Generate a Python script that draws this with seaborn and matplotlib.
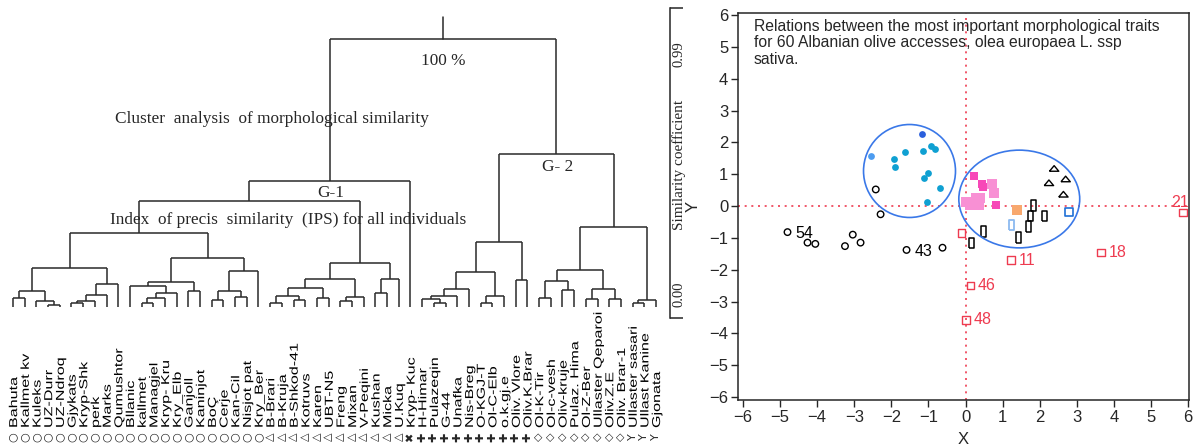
import numpy as np
import pandas as pd
import seaborn as sns
import matplotlib.pyplot as plt
from matplotlib import transforms
from matplotlib.patches import Ellipse, PathPatch
from matplotlib.textpath import TextPath
from matplotlib.font_manager import FontProperties

sns.set_style("ticks")
plt.rcParams['font.family'] = ['Liberation Sans', 'DejaVu Sans']

W, H = 1196, 448

# ---------------- dendrogram data ----------------
leaf_names = ["Bahuta", "Kallmet kv", "Kuleks", "UZ-Durr", "UZ-Ndroq", "Gjykats", "Kryp-Shk", "perk",
              "Marks", "Qumushtor", "Bllanic", "kallmet", "Managjel", "Kryp- Kru", "Kry_Elb", "Ganjoll",
              "Kaninjot", "BoÇ", "Cerje", "Kan-Cil", "Nisjot pat", "Kry_Ber",
              "B-Brari", "B-Kruja", "B-Shkod-41", "Kotruvs", "Karen", "UBT-N5", "Freng", "Mixan",
              "V-Peqini", "Kushan", "Micka", "U.Kuq",
              "Kryp- Kuc",
              "H-Himar", "Pulazeqin", "G-44", "Unafka", "Nis-Breg", "O-KGJ-T", "Ol-C-Elb", "o.k.gj.e",
              "Oliv. Vlore", "Oliv.K.Brar",
              "Ol-K-Tir", "Ol-c-vesh", "Oliv-kruje", "Pulaz. Hima", "Ol-Z-Ber", "Ullaster Qeparoi",
              "Oliv.Z.E", "Oliv. Brar-1",
              "Ullaster sasari", "Ullast Kanine", "Gjonata"]
group_symbols = ["○", "△", "✖", "✚", "◇", "Y"]
group_sizes = [22, 12, 1, 10, 8, 3]

# merges (left, right, height); ids < 56 are leaves, later ids are earlier merges
merges = [
    (0, 1, 0.034), (3, 4, 0.007), (2, 57, 0.022), (56, 58, 0.060),
    (5, 6, 0.015), (60, 7, 0.022), (61, 8, 0.045), (62, 9, 0.086), (59, 63, 0.146),
    (11, 12, 0.015), (65, 13, 0.034), (66, 14, 0.052), (10, 67, 0.078), (15, 16, 0.060),
    (68, 69, 0.093), (17, 18, 0.026), (19, 20, 0.037), (71, 72, 0.060), (73, 21, 0.134),
    (70, 74, 0.183), (64, 75, 0.276),
    (22, 23, 0.015), (24, 25, 0.026), (77, 78, 0.041), (26, 27, 0.034), (79, 80, 0.071),
    (28, 29, 0.022), (82, 30, 0.037), (81, 83, 0.104), (31, 32, 0.052), (85, 33, 0.104),
    (84, 86, 0.164), (76, 87, 0.396), (88, 34, 0.470),
    (36, 37, 0.015), (35, 90, 0.030), (91, 38, 0.041), (92, 39, 0.067), (40, 41, 0.015),
    (94, 42, 0.041), (93, 95, 0.131), (43, 44, 0.101), (96, 97, 0.243),
    (45, 46, 0.034), (47, 48, 0.063), (99, 100, 0.097), (49, 50, 0.030), (51, 52, 0.030),
    (102, 103, 0.067), (101, 104, 0.138), (53, 54, 0.015), (106, 55, 0.026), (105, 107, 0.299),
    (98, 108, 0.571), (89, 109, 1.0),
]

# ---------------- scatter data ----------------
open_circle_x = [-4.80, -4.26, -4.05, -3.25, -3.04, -2.83, -2.42, -2.29, -1.59, -0.62]
open_circle_y = [-0.82, -1.15, -1.19, -1.26, -0.90, -1.15, 0.52, -0.26, -1.38, -1.31]
circle_labels = ["54", "", "", "", "", "", "", "", "43", ""]
cyan_x = [-1.94, -1.91, -1.63, -1.15, -0.94, -0.83, -1.01, -1.11, -0.69, -1.04]
cyan_y = [1.49, 1.21, 1.70, 1.73, 1.87, 1.78, 1.05, 0.88, 0.56, 0.12]
dark_blue_x, dark_blue_y = [-1.18], [2.26]
light_blue_x, light_blue_y = [-2.56], [1.58]
hot_pink_x = [0.24, 0.44, 0.48, 0.83]
hot_pink_y = [0.94, 0.68, 0.59, 0.03]
light_pink_x = [0.72, 0.77, 0.02, 0.11, 0.29, 0.40, 0.36, 0.25]
light_pink_y = [0.68, 0.41, 0.14, 0.04, 0.25, 0.24, 0.04, 0.12]
orange_x, orange_y = [1.38], [-0.11]
rect_x = [1.83, 1.76, 2.14, 1.70, 1.42, 0.49, 0.17]
rect_y = [0.02, -0.32, -0.31, -0.64, -0.99, -0.80, -1.16]
pale_rect_x, pale_rect_y = [1.24], [-0.59]
blue_sq_x, blue_sq_y = [2.79], [-0.19]
tri_x = [2.39, 2.70, 2.25, 2.64]
tri_y = [1.18, 0.85, 0.73, 0.37]
red_x = [-0.11, 1.23, 3.65, 5.86, 0.13, 0.02]
red_y = [-0.85, -1.70, -1.46, -0.20, -2.50, -3.58]
red_labels = ["", "11", "18", "21", "46", "48"]
ellipses = [(-1.51, 1.10, 2.48, 2.92), (1.45, 0.22, 3.26, 3.07)]

fig = plt.figure(figsize=(W / 100, H / 100), dpi=100)

def px(x, y):
    return x / W, 1 - y / H

# ---------------- dendrogram ----------------
ax = fig.add_axes([0, (H - 318) / H, 670 / W, 310 / H])
lc = "#2a2a2a"
n = len(leaf_names)
xpos = list(range(n))
hgt = [0.0] * n
for a, b, h in merges:
    for c in (a, b):
        ax.plot([xpos[c], xpos[c]], [hgt[c], h], color=lc, lw=1.1, solid_capstyle="butt")
    ax.plot([xpos[a], xpos[b]], [h, h], color=lc, lw=1.1, solid_capstyle="butt")
    xpos.append((xpos[a] + xpos[b]) / 2)
    hgt.append(h)
ax.plot([xpos[-1], xpos[-1]], [hgt[-1], 1.082], color=lc, lw=1.1)

ax.set_xlim(-13 / 11.69, (670 - 13) / 11.69)
ax.set_ylim(-11 / 268, 299 / 268)
for s in ["left", "top", "bottom"]:
    ax.spines[s].set_visible(False)
ax.spines["right"].set_linewidth(1.1)
ax.set_xticks([])
ax.yaxis.tick_right()
ax.set_yticks([-11 / 268, 299 / 268])
ax.set_yticklabels([])
ax.tick_params(axis="y", length=9, width=1.1, direction="out")

serif = ["Liberation Serif", "DejaVu Serif"]
fig.text(*px(679, 54), "0.99", rotation=90, ha="center", va="center", family=serif, fontsize=10.5)
fig.text(*px(679, 294), "0.00", rotation=90, ha="center", va="center", family=serif, fontsize=10.5)
fig.text(*px(679, 165), "Similarity coefficient", rotation=90, ha="center", va="center",
         family=serif, fontsize=11)
fig.text(*px(443, 61), "100 %", ha="center", va="center", family=serif, fontsize=12.4)
fig.text(*px(272, 119), "Cluster  analysis  of morphological similarity", ha="center", va="center",
         family=serif, fontsize=12.4)
fig.text(*px(331, 193), "G-1", ha="center", va="center", family=serif, fontsize=12.4)
fig.text(*px(558, 167), "G- 2", ha="center", va="center", family=serif, fontsize=12.4)
fig.text(*px(288, 220), "Index  of precis  similarity  (IPS) for all individuals", ha="center",
         va="center", family=serif, fontsize=12.4)

# leaf labels: tall, narrow sans text read bottom-up
fp = FontProperties(family="Liberation Sans")
blend = transforms.blended_transform_factory(ax.transData, fig.transFigure)
symbols = [s for s, k in zip(group_symbols, group_sizes) for _ in range(k)]
for i, (name, sym) in enumerate(zip(leaf_names, symbols)):
    xc = 13 + 11.69 * i
    tp = TextPath((0, 0), name, size=11.5, prop=fp)
    tr = transforms.Affine2D().scale(1.4, 1.0).rotate_deg(90).translate(xc + 4.1, H - 428)
    fig.add_artist(PathPatch(tp, transform=tr, fc="black", lw=0))
    ax.text(i, 1 - 437 / H, sym, rotation=90, ha="center", va="center", fontsize=8,
            fontweight="bold" if sym in ("✖", "✚") else "normal",
            family=["DejaVu Sans"], transform=blend, clip_on=False)

# ---------------- scatter ----------------
sx = fig.add_axes([738 / W, (H - 400) / H, (1189 - 738) / W, (400 - 13) / H])
red = "#ee3b50"
rect_marker = [(-0.5, -1), (0.5, -1), (0.5, 1), (-0.5, 1), (-0.5, -1)]
tri_marker = [(-1, -0.6), (1, -0.6), (0, 0.6), (-1, -0.6)]

sns.scatterplot(x=open_circle_x, y=open_circle_y, ax=sx, marker="o", s=22, color="black",
                facecolor="none", edgecolor="black", linewidth=1.0)
sns.scatterplot(x=cyan_x, y=cyan_y, ax=sx, marker="o", s=24, color="#0fa0d2", linewidth=0)
sns.scatterplot(x=dark_blue_x, y=dark_blue_y, ax=sx, marker="o", s=24, color="#2b5fdc", linewidth=0)
sns.scatterplot(x=light_blue_x, y=light_blue_y, ax=sx, marker="o", s=24, color="#4d9cf0", linewidth=0)
sns.scatterplot(x=light_pink_x, y=light_pink_y, ax=sx, marker="s", s=42, color="#f890d4", linewidth=0)
sns.scatterplot(x=hot_pink_x, y=hot_pink_y, ax=sx, marker="s", s=36, color="#f748b8", linewidth=0)
sns.scatterplot(x=orange_x, y=orange_y, ax=sx, marker="s", s=60, color="#f8a86e", linewidth=0)
sns.scatterplot(x=rect_x, y=rect_y, ax=sx, marker=rect_marker, s=55, color="black",
                facecolor="none", edgecolor="black", linewidth=1.1)
sns.scatterplot(x=pale_rect_x, y=pale_rect_y, ax=sx, marker=rect_marker, s=55, color="#8cbaf0",
                facecolor="none", edgecolor="#8cbaf0", linewidth=1.3)
sns.scatterplot(x=blue_sq_x, y=blue_sq_y, ax=sx, marker="s", s=30, color="#1f6fd6",
                facecolor="none", edgecolor="#1f6fd6", linewidth=1.2)
sns.scatterplot(x=tri_x, y=tri_y, ax=sx, marker=tri_marker, s=45, color="black",
                facecolor="none", edgecolor="black", linewidth=1.0)
sns.scatterplot(x=red_x, y=red_y, ax=sx, marker="s", s=30, color=red,
                facecolor="none", edgecolor=red, linewidth=1.0)

for x, y, t in zip(open_circle_x, open_circle_y, circle_labels):
    if t:
        sx.annotate(t, (x, y), xytext=(5.5, -1), textcoords="offset points", va="center",
                    fontsize=11.5, color="black")
for x, y, t in zip(red_x, red_y, red_labels):
    if t == "21":
        sx.annotate(t, (x, y), xytext=(-2, 7), textcoords="offset points", ha="center",
                    va="center", fontsize=11.5, color=red, annotation_clip=False)
    elif t:
        sx.annotate(t, (x, y), xytext=(5.5, 0), textcoords="offset points", va="center",
                    fontsize=11.5, color=red)

for cx, cy, w, h in ellipses:
    sx.add_patch(Ellipse((cx, cy), w, h, fill=False, ec="#3a78e8", lw=1.2))

sx.axhline(0, color=red, lw=1.2, ls=(0, (1.2, 2.8)), zorder=0)
sx.axvline(0, color=red, lw=1.2, ls=(0, (1.2, 2.8)), zorder=0)

sx.set_xlim(-6.135, 6.027)
sx.set_ylim(-6.094, 6.063)
sx.set_xticks(range(-6, 7))
sx.set_yticks(range(-6, 7))
sx.tick_params(labelsize=12, length=5, width=1, direction="out", pad=2)
for s in sx.spines.values():
    s.set_linewidth(1.1)
    s.set_visible(True)
sx.set_xlabel("X", fontsize=12)
sx.set_ylabel("Y", fontsize=12)
sx.xaxis.set_label_coords(0.5, -0.083)
sx.yaxis.set_label_coords(-0.083, 0.5)
sx.text(0.035, 0.985, "Relations between the most important morphological traits\n"
        "for 60 Albanian olive accesses, olea europaea L. ssp\nsativa.",
        transform=sx.transAxes, ha="left", va="top", fontsize=11.3, linespacing=1.12)

fig.savefig("out.png", dpi=100)
